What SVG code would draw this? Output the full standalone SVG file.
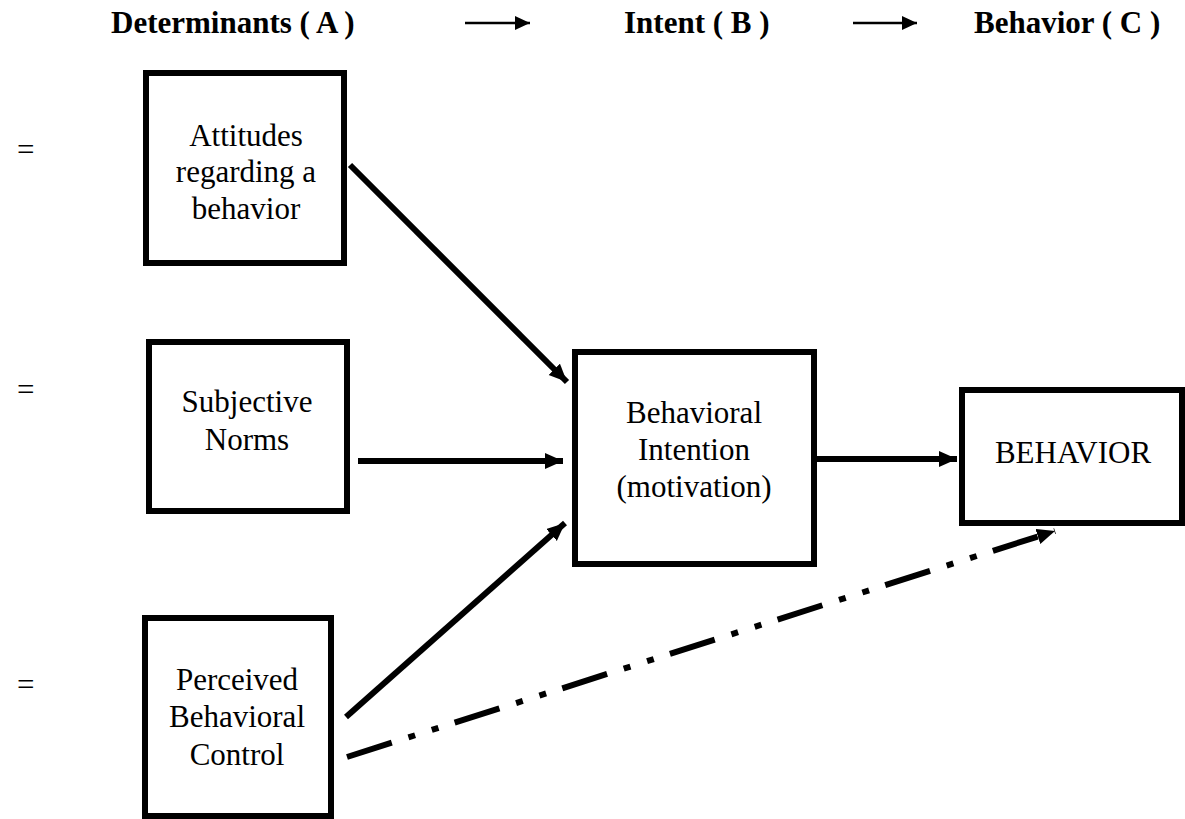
<svg xmlns="http://www.w3.org/2000/svg" width="1185" height="819" viewBox="0 0 1185 819">
<style>
.box{fill:#fff;stroke:#000;stroke-width:6}
.t{font-family:"Liberation Serif","Times New Roman",serif;font-size:31px;fill:#000;text-anchor:middle}
.h{font-family:"Liberation Serif","Times New Roman",serif;font-size:31px;font-weight:bold;fill:#000}
.eq{font-family:"Liberation Serif","Times New Roman",serif;font-size:31px;fill:#000}
.c{stroke:#000;stroke-width:6;fill:none}
.hc{stroke:#000;stroke-width:2.5;fill:none}
</style>
<defs>
<marker id="ah" markerUnits="userSpaceOnUse" markerWidth="20" markerHeight="18" refX="18" refY="8" orient="auto">
<path d="M0,0 L18,8 L0,16 z" fill="#000"/>
</marker>
<marker id="ahs" markerUnits="userSpaceOnUse" markerWidth="16" markerHeight="16" refX="15" refY="7" orient="auto">
<path d="M0,0 L15,7 L0,14 z" fill="#000"/>
</marker>
</defs>
<g id="header">
<text class="h" x="111" y="33">Determinants ( A )</text>
<text class="h" x="624" y="33">Intent ( B )</text>
<text class="h" x="974" y="33">Behavior ( C )</text>
<line class="hc" x1="465" y1="23" x2="530" y2="23" marker-end="url(#ahs)"/>
<line class="hc" x1="853" y1="23" x2="917" y2="23" marker-end="url(#ahs)"/>
</g>
<g id="equals">
<text class="eq" x="17" y="160">=</text>
<text class="eq" x="17" y="400">=</text>
<text class="eq" x="17" y="695">=</text>
</g>
<g id="attitudes">
<rect class="box" x="146" y="73" width="198" height="190"/>
<text class="t" x="246" y="146">Attitudes</text>
<text class="t" x="246" y="182">regarding a</text>
<text class="t" x="246" y="219">behavior</text>
</g>
<g id="norms">
<rect class="box" x="149" y="342" width="198" height="169"/>
<text class="t" x="247" y="412">Subjective</text>
<text class="t" x="247" y="450">Norms</text>
</g>
<g id="control">
<rect class="box" x="145" y="618" width="186" height="198"/>
<text class="t" x="237" y="690">Perceived</text>
<text class="t" x="237" y="727">Behavioral</text>
<text class="t" x="237" y="765">Control</text>
</g>
<g id="intention">
<rect class="box" x="575" y="352" width="239" height="212"/>
<text class="t" x="694" y="423">Behavioral</text>
<text class="t" x="694" y="460">Intention</text>
<text class="t" x="694" y="497">(motivation)</text>
</g>
<g id="behavior">
<rect class="box" x="962" y="390" width="220" height="133"/>
<text class="t" x="1073" y="463">BEHAVIOR</text>
</g>
<g id="connectors">
<path class="c" d="M350,165 L567,382" marker-end="url(#ah)"/>
<path class="c" d="M358,461 L563,461" marker-end="url(#ah)"/>
<path class="c" d="M346,717 L565,523" marker-end="url(#ah)"/>
<path class="c" d="M817,459 L957,459" marker-end="url(#ah)"/>
<path class="c" d="M347,757 L1055,531" stroke-dasharray="47 17.5 7 17.5 7 17" marker-end="url(#ah)"/>
</g>
</svg>
